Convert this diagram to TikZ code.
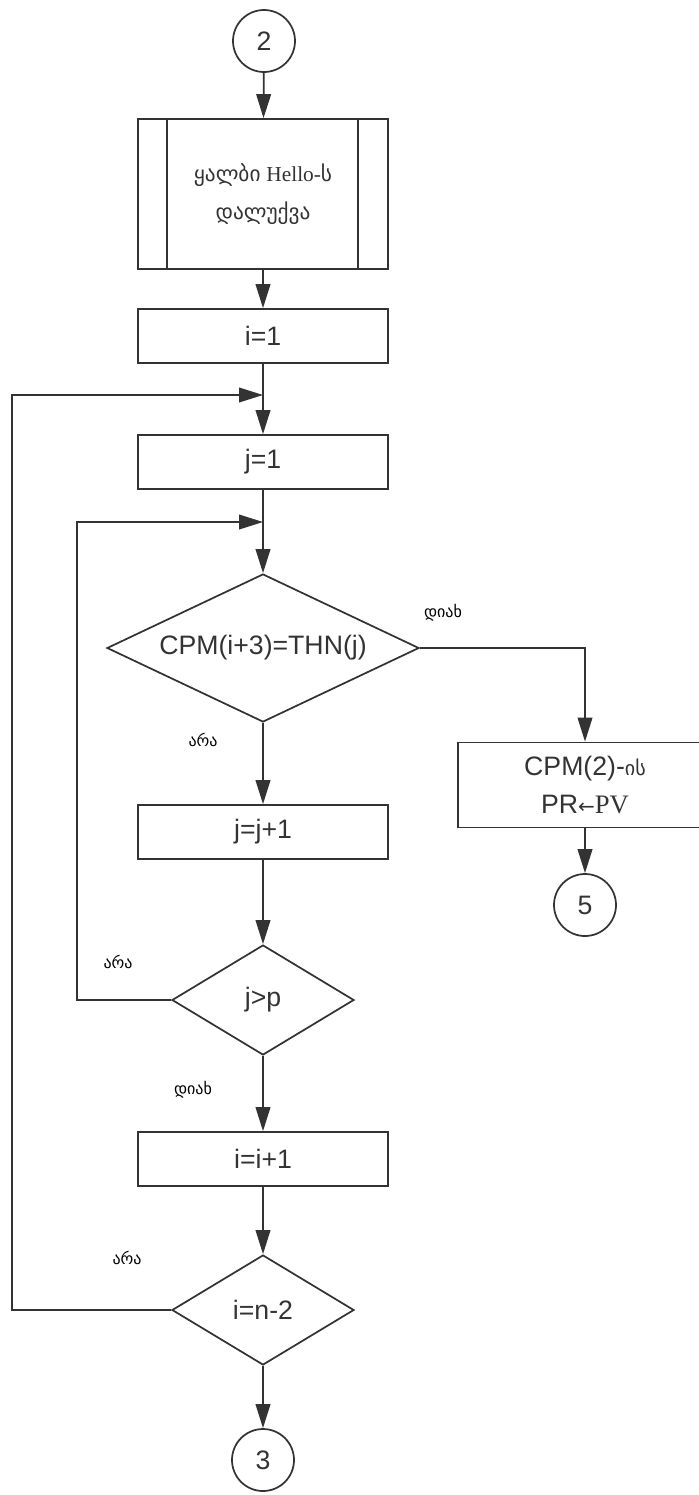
\documentclass[tikz,border=0pt]{standalone}
\usepackage{fontspec}
\setmainfont{Liberation Sans}
\newfontfamily\geofont{DejaVu Sans}
\newfontfamily\romfont{Liberation Serif}
\usetikzlibrary{
    arrows.meta,
    positioning,
    shapes.geometric
}

\begin{document}
\begin{tikzpicture}[
    x=0.75pt,y=-0.75pt,
    font=\fontsize{20}{28.5}\selectfont,
    flow/.style={draw=black!80,line width=1.3pt,-{Triangle[length=18pt,width=11pt]}},
    wire/.style={draw=black!80,line width=1.3pt},
    process/.style={rectangle,draw=black!80,line width=1.3pt,minimum width=187.5pt,
        minimum height=40.5pt,inner sep=0pt,text=black!80,align=center},
    decision/.style={diamond,draw=black!80,line width=1.3pt,inner sep=0pt,text=black!80},
    connector/.style={circle,draw=black!80,line width=1.3pt,minimum size=46.5pt,
        inner sep=0pt,text=black!80},
    answer/.style={font=\geofont\fontsize{12}{14}\selectfont,text=black}
]
    \useasboundingbox (0,0) rectangle (699,1495);

    % Entry and the sealed Hello block.
    \node[connector] (c2) at (264,41) {2};
    \node[process,minimum height=112.5pt,font=\fontsize{16}{28.5}\selectfont] (hello) at (263,194)
        {{\geofont ყალბი} {\romfont Hello-}{\geofont ს}\\
         {\geofont დალუქვა}};
    \draw[wire] ([xshift=22.5pt]hello.north west) -- ([xshift=22.5pt]hello.south west);
    \draw[wire] ([xshift=-23.25pt]hello.north east) -- ([xshift=-23.25pt]hello.south east);

    \node[process] (i1) at (263,336) {i=1};
    \coordinate (m1) at (263,395);
    \node[process] (j1) at (263,462) {j=1};
    \coordinate (m2) at (263,522);

    % Inner comparison loop over j.
    \node[decision,minimum width=234pt,minimum height=111pt,aspect=2.1] (cmp) at (263,648)
        {CPM(i+3)=THN(j)};
    \node[process,minimum width=190.5pt,minimum height=63.75pt] (res) at (585,785)
        {CPM(2)-{\geofont\fontsize{15}{28.5}\selectfont ის}\\
         PR{\geofont\fontsize{15}{28.5}\selectfont ←}{\romfont PV}};
    \node[connector] (c5) at (585,905) {5};

    \node[process] (jinc) at (263,832) {j=j+1};
    \node[decision,minimum width=136.5pt,minimum height=82.5pt,aspect=1.65] (jp) at (263,1000)
        {j>p};

    % Outer loop over i.
    \node[process] (iinc) at (263,1159) {i=i+1};
    \node[decision,minimum width=136.5pt,minimum height=82.5pt,aspect=1.65] (in2) at (263,1310)
        {i=n-2};
    \node[connector] (c3) at (263,1460) {3};

    \coordinate (outer) at (12,395);
    \coordinate (inner) at (77,522);

    \draw[flow] (c2) -- (hello);
    \draw[flow] (hello) -- (i1);
    \draw[wire] (i1) -- (m1);
    \draw[flow] (m1) -- (j1);
    \draw[wire] (j1) -- (m2);
    \draw[flow] (m2) -- (cmp);
    \draw[flow] (cmp.east) -| (res.north);
    \draw[flow] (res) -- (c5);
    \draw[flow] (cmp) -- (jinc);
    \draw[flow] (jinc) -- (jp);
    \draw[flow] (jp.west) -| (inner) -- (m2);
    \draw[flow] (jp) -- (iinc);
    \draw[flow] (iinc) -- (in2);
    \draw[flow] (in2.west) -| (outer) -- (m1);
    \draw[flow] (in2) -- (c3);

    % Branch labels.
    \node[answer] (yes1) at (443,613) {დიახ};
    \node[answer] (no1) at (203,740) {არა};
    \node[answer] (no2) at (118,962) {არა};
    \node[answer] (yes2) at (193,1090) {დიახ};
    \node[answer] (no3) at (127,1258) {არა};
\end{tikzpicture}
\end{document}
